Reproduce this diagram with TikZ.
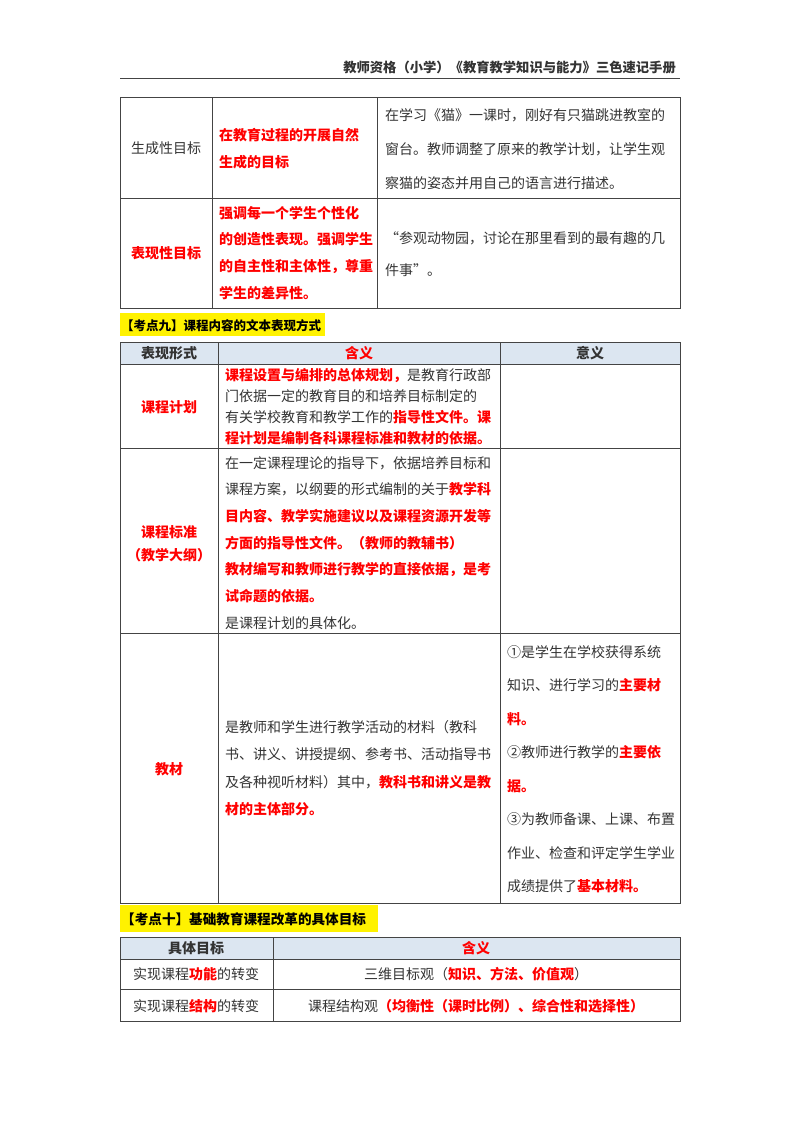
\documentclass[tikz,border=0pt]{standalone}
\usepackage{fontspec}
\setmainfont{Noto Sans CJK SC}
\usepackage{xcolor}
\definecolor{txt}{HTML}{333333}
\definecolor{rd}{HTML}{FF0000}
\definecolor{hdr}{HTML}{DCE6F1}
\definecolor{bd}{HTML}{444444}
\newcommand{\R}[1]{\textcolor{rd}{\bfseries #1}}
\newcommand{\Lines}[4]{\foreach \t [count=\i from 0] in {#4}{\node[tx,anchor=base west] at (#1,{#2+5+\i*#3}) {\t};}}
\begin{document}
\begin{tikzpicture}[x=1pt,y=-1pt,
  tx/.style={inner sep=0pt,text=txt,font=\fontsize{14}{16}\selectfont},
  grid/.style={draw=bd,line width=1pt}]
\useasboundingbox (0,0) rectangle (800,1132);
% header
\node[tx,anchor=base east,font=\fontsize{13.3}{15}\selectfont\bfseries] (hd) at (676,72) {教师资格（小学）《教育教学知识与能力》三色速记手册};
\draw[line width=0.8pt,bd] (120,78) -- (680,78);
% table 1
\draw[grid] (120,97) rectangle (680,308);
\draw[grid] (120,198) -- (680,198) (212,97) -- (212,308) (377,97) -- (377,308);
\node[tx,anchor=base] at (166,153) {生成性目标};
\Lines{219}{135}{27}{\R{在教育过程的开展自然},\R{生成的目标}}
\Lines{385}{115}{34}{在学习《猫》一课时，刚好有只猫跳进教室的,窗台。教师调整了原来的教学计划，让学生观,察猫的姿态并用自己的语言进行描述。}
\node[tx,anchor=base] at (166,258) {\R{表现性目标}};
\Lines{219}{213}{26.8}{\R{强调每一个学生个性化},\R{的创造性表现。强调学生},\R{的自主性和主体性，尊重},\R{学生的差异性。}}
\Lines{385}{238}{32}{“参观动物园，讨论在那里看到的最有趣的几,件事”。}
% heading 9
\fill[yellow] (120,313) rectangle (325,336);
\node[tx,anchor=base west,font=\fontsize{12.5}{14}\selectfont\bfseries,text=black] at (121,330) {【考点九】课程内容的文本表现方式};
% table 2
\fill[hdr] (120,342) rectangle (680,364);
\draw[grid] (120,342) rectangle (680,903);
\draw[grid] (120,364) -- (680,364) (120,448) -- (680,448) (120,633) -- (680,633);
\draw[grid] (218,342) -- (218,903) (500,342) -- (500,903);
\node[tx,anchor=base,font=\fontsize{14}{16}\selectfont\bfseries] at (169,358) {表现形式};
\node[tx,anchor=base,font=\fontsize{14}{16}\selectfont\bfseries,text=rd] at (359,358) {含义};
\node[tx,anchor=base,font=\fontsize{14}{16}\selectfont\bfseries] at (590,358) {意义};
\node[tx,anchor=base] at (169,412) {\R{课程计划}};
\Lines{225}{375}{21}{\R{课程设置与编排的总体规划，}是教育行政部,门依据一定的教育目的和培养目标制定的,有关学校教育和教学工作的\R{指导性文件。课},\R{程计划是编制各科课程标准和教材的依据。}}
\node[tx,anchor=base] at (169,537) {\R{课程标准}};
\node[tx,anchor=base] at (169,560) {\R{（教学大纲）}};
\Lines{225}{463}{26.7}{在一定课程理论的指导下，依据培养目标和,课程方案，以纲要的形式编制的关于\R{教学科},\R{目内容、教学实施建议以及课程资源开发等},\R{方面的指导性文件。（教师的教辅书）},\R{教材编写和教师进行教学的直接依据，是考},\R{试命题的依据。}}
\node[tx,anchor=base west] at (225,628) {是课程计划的具体化。};
\node[tx,anchor=base] at (169,774) {\R{教材}};
\Lines{225}{727}{27.5}{是教师和学生进行教学活动的材料（教科,书、讲义、讲授提纲、参考书、活动指导书,及各种视听材料）其中，\R{教科书和讲义是教},\R{材的主体部分。}}
\Lines{507}{652}{33.5}{①是学生在学校获得系统,知识、进行学习的\R{主要材},\R{料。},②教师进行教学的\R{主要依},\R{据。},③为教师备课、上课、布置,作业、检查和评定学生学业,成绩提供了\R{基本材料。}}
% heading 10
\fill[yellow] (120,905) rectangle (378,932);
\node[tx,anchor=base west,font=\fontsize{13.6}{15}\selectfont\bfseries,text=black] at (121,924) {【考点十】基础教育课程改革的具体目标};
% table 3
\fill[hdr] (120,937) rectangle (680,959);
\draw[grid] (120,937) rectangle (680,1021);
\draw[grid] (120,959) -- (680,959) (120,989) -- (680,989) (273,937) -- (273,1021);
\node[tx,anchor=base,font=\fontsize{14}{16}\selectfont\bfseries] at (196,953) {具体目标};
\node[tx,anchor=base,font=\fontsize{14}{16}\selectfont\bfseries,text=rd] at (476,953) {含义};
\node[tx,anchor=base] at (196,979) {实现课程\R{功能}的转变};
\node[tx,anchor=base] at (476,979) {三维目标观（\R{知识、方法、价值观}）};
\node[tx,anchor=base] at (196,1011) {实现课程\R{结构}的转变};
\node[tx,anchor=base] at (476,1011) {课程结构观\R{（均衡性（课时比例）、综合性和选择性）}};
\end{tikzpicture}
\end{document}
